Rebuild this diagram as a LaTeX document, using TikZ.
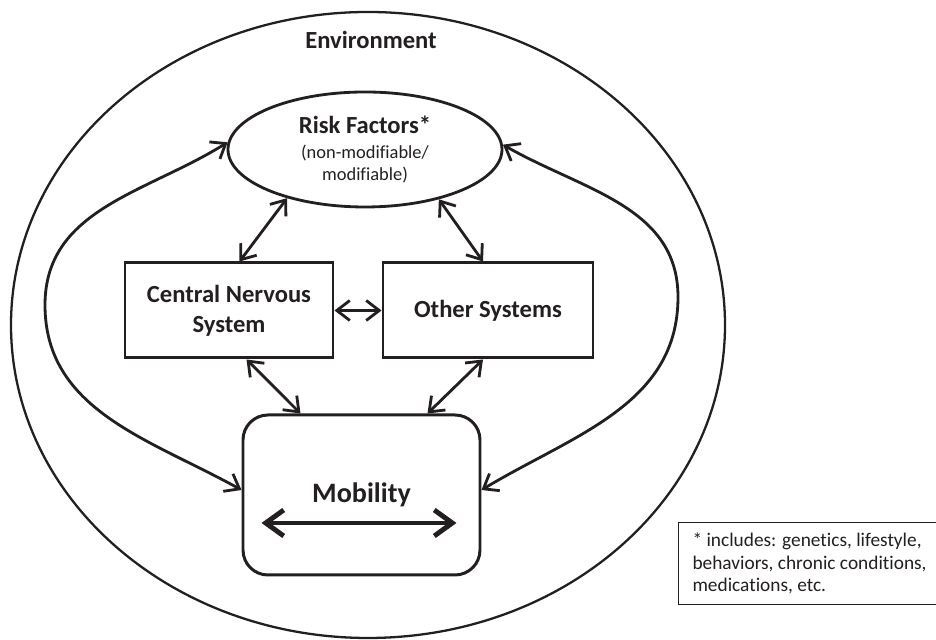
\documentclass[tikz,border=0pt]{standalone}
\usepackage{fontspec}
\setmainfont{Carlito}[Ligatures=NoCommon]
\usepackage{xcolor}
\definecolor{inkblack}{RGB}{35,31,32}
\usetikzlibrary{arrows.meta, shapes.geometric}

\begin{document}
\begin{tikzpicture}[
    twoway/.style={inkblack, line width=1.6pt,
      {Straight Barb[length=2.6mm, width=4mm]}-{Straight Barb[length=2.6mm, width=4mm]}},
    sysbox/.style={draw=inkblack, line width=1.7pt, minimum width=4.16cm,
      minimum height=1.9cm, align=center, text=inkblack,
      font=\fontsize{14}{17}\selectfont\bfseries},
  ]
  \useasboundingbox (0,0) rectangle (18.72,12.8);

  % Environment
  \node[draw=inkblack, line width=1.3pt, ellipse, minimum width=14.28cm,
        minimum height=12.52cm] (env) at (7.36,6.3) {};
  \node[text=inkblack, font=\fontsize{14}{17}\selectfont\bfseries] (envlabel) at (7.42,12.0) {Environment};

  % Risk factors
  \node[draw=inkblack, line width=1.6pt, ellipse, minimum width=5.48cm, minimum height=2.3cm,
        align=center, text=inkblack, font=\fontsize{10.5}{12.5}\selectfont] (risk) at (7.3,9.81)
    {{\fontsize{14}{17}\selectfont\bfseries Risk Factors*}\\[2pt] (non-modifiable/\\modifiable)};

  % Body systems
  \node[sysbox] (cns) at (4.58,6.59) {Central Nervous\\System};
  \node[sysbox, minimum width=4.2cm] (other) at (9.76,6.59) {Other Systems};

  % Mobility box with its own two-way arrow
  \node[draw=inkblack, line width=1.7pt, rounded corners=0.5cm, minimum width=4.74cm,
        minimum height=3.2cm, text=inkblack, font=\fontsize{16}{19}\selectfont\bfseries] (mob) at (7.23,2.9) {Mobility};
  \coordinate (mobleft) at ([shift={(0.4,-0.56)}]mob.west);
  \coordinate (mobright) at ([shift={(-0.5,-0.56)}]mob.east);
  \draw[inkblack, line width=2.8pt,
        {Straight Barb[length=3.6mm, width=5.2mm]}-{Straight Barb[length=3.6mm, width=5.2mm]}] (mobleft) -- (mobright);

  % Links between the inner boxes
  \draw[twoway] (risk.212) -- ([xshift=0.21cm]cns.north);
  \draw[twoway] (risk.326) -- ([xshift=-0.1cm]other.north);
  \draw[twoway] (cns.east) -- (other.west);
  \draw[twoway] ([xshift=0.35cm]cns.south) -- ([xshift=-1.22cm]mob.north);
  \draw[twoway] ([xshift=-0.1cm]other.south) -- ([xshift=1.32cm]mob.north);

  % Outer loops from risk factors down to mobility
  \coordinate (leftbend) at (0.9,6.7);
  \coordinate (rightbend) at (13.56,6.86);
  \draw[twoway] (risk.177) to[out=212, in=90] (leftbend) to[out=270, in=151] ([yshift=0.1cm]mob.west);
  \draw[twoway] (risk.2) to[out=330, in=90] (rightbend) to[out=270, in=31] ([yshift=0.1cm]mob.east);

  % Footnote
  \node[draw=inkblack, line width=0.6pt, anchor=north west, text width=4.9cm, inner xsep=0.28cm,
        minimum height=1.64cm, align=flush left, text=inkblack, font=\fontsize{11}{13}\selectfont] (note) at (13.56,2.36)
    {* includes: genetics, lifestyle,\\behaviors, chronic conditions,\\medications, etc.};
\end{tikzpicture}
\end{document}
